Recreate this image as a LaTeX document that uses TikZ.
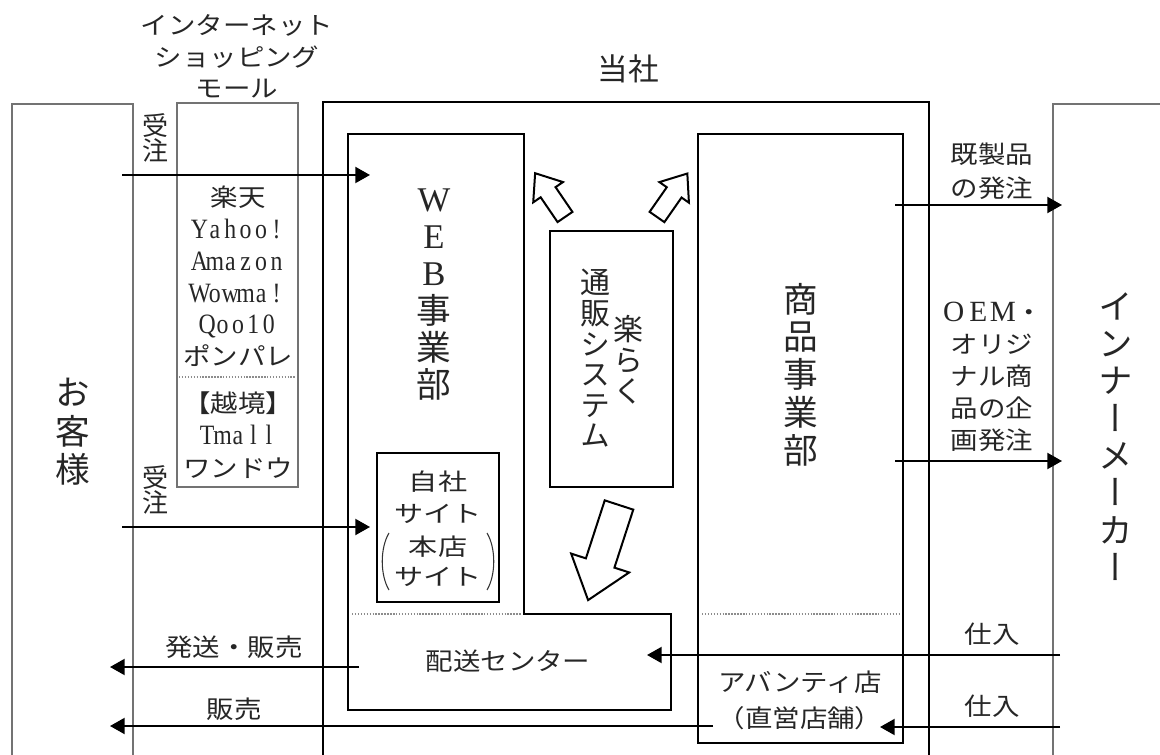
\documentclass[tikz,border=0pt]{standalone}
\usepackage{fontspec}
\setmainfont{Liberation Serif}
\newfontfamily\jp[FakeStretch=1.12]{Noto Sans CJK JP}
\newfontfamily\jpw[FakeStretch=1.25]{Noto Sans CJK JP}
\newfontfamily\jpn{Noto Sans CJK JP}
\newfontfamily\jpv[RawFeature=+vert]{Noto Sans CJK JP}
\newfontfamily\lat[FakeStretch=0.85]{Liberation Serif}
\usetikzlibrary{arrows.meta}
\makeatletter
\newcommand\monotext[1]{{\lat\fontsize{21pt}{24pt}\selectfont\@tfor\mychar:=#1\do{\makebox[11.55pt]{\mychar}}}}
\makeatother
\newcommand\fs[2]{\fontsize{#1pt}{#2pt}\selectfont}
\begin{document}
\begin{tikzpicture}[x=0.75pt,y=-0.75pt,
  grayline/.style={draw=black!55, line width=1pt, line join=miter},
  heavy/.style={draw=black, line width=2pt, line join=miter},
  midbox/.style={draw=black, line width=1.6pt, line join=miter},
  flow/.style={draw=black, line width=1.5pt, -{Triangle[length=11pt,width=12pt]}},
  sep/.style={draw=black!45, line width=0.9pt, dash pattern=on 1.1pt off 1.1pt},
  hollow/.style={draw=black, line width=1.5pt, fill=white, line join=miter},
  paren/.style={draw=black!80, line width=0.8pt},
  lbl/.style={inner sep=0pt, align=center, text=black!85},
  small/.style={font=\jp\fs{18.4}{#1}},
  vbig/.style={font=\jpv\fs{26}{#1}},
]
\useasboundingbox (0,0) rectangle (1160,755);

% outer boxes
\draw[grayline] (12,755) -- (12,104) -- (133,104) -- (133,755);
\draw[grayline] (177,103) rectangle (298,487);
\draw[grayline] (1160,104) -- (1053,104) -- (1053,755);
\draw[heavy] (323,755) -- (323,102) -- (929,102) -- (929,755);
\draw[heavy] (348,134) -- (524,134) -- (524,614) -- (671,614) -- (671,710) -- (348,710) -- cycle;
\draw[heavy] (698,134) rectangle (903,743);
\draw[midbox] (377,453) rectangle (499,602);
\draw[midbox] (550,231) rectangle (673,487);

% dotted separators
\draw[sep] (179,377) -- (296,377);
\draw[sep] (352,614) -- (522,614);
\draw[sep] (702,614) -- (900,614);

% connector end points
\coordinate (o1s) at (122,175);  \coordinate (o1e) at (370,175);
\coordinate (o2s) at (122,527);  \coordinate (o2e) at (370,527);
\coordinate (k1s) at (895,205);  \coordinate (k1e) at (1062,205);
\coordinate (k2s) at (895,461);  \coordinate (k2e) at (1062,461);
\coordinate (s1s) at (1060,655); \coordinate (s1e) at (647,655);
\coordinate (s2s) at (1060,727); \coordinate (s2e) at (880,727);
\coordinate (h1s) at (359,667);  \coordinate (h1e) at (110,667);
\coordinate (h2s) at (713,726);  \coordinate (h2e) at (110,726);

\draw[flow] (o1s) -- (o1e);
\draw[flow] (o2s) -- (o2e);
\draw[flow] (k1s) -- (k1e);
\draw[flow] (k2s) -- (k2e);
\draw[flow] (s1s) -- (s1e);
\draw[flow] (s2s) -- (s2e);
\draw[flow] (h1s) -- (h1e);
\draw[flow] (h2s) -- (h2e);

% hollow block arrows
\begin{scope}[shift={(565,217)}, rotate=124.3]
  \draw[hollow] (0,-9) -- (30,-9) -- (30,-18) -- (53,0) -- (30,18) -- (30,9) -- (0,9) -- cycle;
\end{scope}
\begin{scope}[shift={(657,217)}, rotate=55.1]
  \draw[hollow] (0,-9) -- (30,-9) -- (30,-18) -- (53,0) -- (30,18) -- (30,9) -- (0,9) -- cycle;
\end{scope}
\begin{scope}[shift={(619,505)}, rotate=252]
  \draw[hollow] (0,-15) -- (61,-15) -- (61,-30.5) -- (100,0) -- (61,30.5) -- (61,15) -- (0,15) -- cycle;
\end{scope}

% large parentheses around 本店サイト
\draw[paren] (389,533) .. controls (380,548) and (380,575) .. (389,590);
\draw[paren] (487,533) .. controls (496,548) and (496,575) .. (487,590);

% labels
\node[lbl, small=23.6] (mallttl) at (237,56.5) {インターネット\\ショッピング\\モール};
\node[lbl, font=\jpn\fs{23}{28}] (tosha) at (628,69) {当社};
\node[lbl, vbig=28.9] (okyaku) at (73,432) {お\\客\\様};
\node[lbl, font=\jpv\fs{19.5}{18.9}] (ju1) at (155,138) {受\\注};
\node[lbl, font=\jpv\fs{19.5}{18.9}] (ju2) at (155,490) {受\\注};
\node[lbl, small=23.85] (mall1) at (238,276.5) {楽天\\\monotext{Yahoo!}\\\monotext{Amazon}\\\monotext{Wowma!}\\\monotext{Qoo10}\\ポンパレ};
\node[lbl, small=24.4] (mall2) at (238,435) {【越境】\\\monotext{Tmall}\\ワンドウ};
\node[lbl, vbig=28] (web) at (434,294.5) {{\rmfamily W}\\{\rmfamily E}\\{\rmfamily B}\\事\\業\\部};
\node[lbl, font=\jpw\fs{17.5}{24}] (jisha) at (438,497) {自社\\サイト};
\node[lbl, font=\jpw\fs{17.5}{22.5}] (honten) at (438,561) {本店\\サイト};
\node[lbl, font=\jpv\fs{22.5}{23.25}] (raku) at (628,360) {楽\\ら\\く};
\node[lbl, font=\jpv\fs{22.5}{22.95}] (tsuhan) at (595,358.5) {通\\販\\シ\\ス\\テ\\ム};
\node[lbl, small=24] (haiso) at (508,661) {配送センター};
\node[lbl, small=24] (hasso) at (234,647) {発送・販売};
\node[lbl, small=24] (hanbai) at (234,709) {販売};
\node[lbl, vbig=28.3] (shohin) at (801,374.5) {商\\品\\事\\業\\部};
\node[lbl, small=27] (avanti) at (800,700) {アバンティ店\\（直営店舗）};
\node[lbl, small=24] (shiire1) at (992,634) {仕入};
\node[lbl, small=24] (shiire2) at (992,706) {仕入};
\node[lbl, small=25.5] (kisei) at (992,171) {既製品\\の発注};
\node[lbl, small=24.1] (oem) at (992,376.7) {{\rmfamily\fontsize{22pt}{24.1pt}\selectfont\makebox[18.4pt]{O}\makebox[18.4pt]{E}\makebox[18.4pt]{M}}・\\オリジ\\ナル商\\品の企\\画発注};
\node[lbl, vbig=28] (inner) at (1116,436.5) {イ\\ン\\ナ\\ー\\メ\\ー\\カ\\ー};
\end{tikzpicture}
\end{document}
